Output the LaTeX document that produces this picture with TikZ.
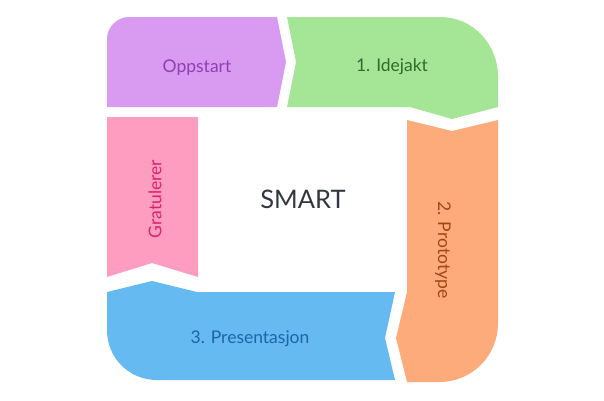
\documentclass[tikz,border=0pt]{standalone}
\usepackage{fontspec}
\setmainfont{Lato}
\usepackage{xcolor}
\usepackage{tikz}
\definecolor{oppfill}{HTML}{D99BF1}
\definecolor{opptext}{HTML}{8E3FB0}
\definecolor{idefill}{HTML}{A5E596}
\definecolor{idetext}{HTML}{2F6B2A}
\definecolor{profill}{HTML}{FDAB7A}
\definecolor{protext}{HTML}{A34712}
\definecolor{prefill}{HTML}{64BAF1}
\definecolor{pretext}{HTML}{1F63A8}
\definecolor{grafill}{HTML}{FE9DC0}
\definecolor{gratext}{HTML}{D8236F}
\definecolor{smarttext}{HTML}{33373F}
\tikzset{
	step label/.style={font=\fontsize{17.5}{20}\selectfont,inner sep=0pt},
	center label/.style={font=\fontsize{25.5}{30}\selectfont,text=smarttext,inner sep=0pt}
}

\begin{document}
\begin{tikzpicture}[x=1pt,y=-1pt]
	\useasboundingbox (0,0) rectangle (604,400);
	\fill[oppfill] (107,107) -- (107,39) .. controls (107,27) and (117,17) .. (129,17)
		-- (277,17) -- (286,62) -- (277,107) -- cycle;
	\fill[idefill] (287,17) -- (440,17) .. controls (473,17) and (498,44) .. (498,77)
		-- (498,107) -- (452,119) -- (410,107) -- (287,107) -- (296,62) -- cycle;
	\fill[profill] (407,120) -- (452,131) -- (498,120) -- (498,323)
		.. controls (498,356) and (472,382) .. (439,382)
		-- (407,382) -- (396,338) -- (407,292) -- cycle;
	\fill[prefill] (107,292) -- (152,281) -- (197,292) -- (395,292) -- (385,338)
		-- (395,380) -- (157,380) .. controls (129,380) and (107,358) .. (107,330) -- cycle;
	\fill[grafill] (107,117) -- (198,117) -- (198,277) -- (152,263) -- (107,277) -- cycle;
	\node[step label,text=opptext] (oppstart) at (197,68) {Oppstart};
	\node[step label,text=idetext] (idejakt) at (392,67) {1. Idejakt};
	\node[step label,text=protext,rotate=-90] (prototype) at (443,250) {2. Prototype};
	\node[step label,text=pretext] (presentasjon) at (250,339) {3. Presentasjon};
	\node[step label,text=gratext,rotate=90] (gratulerer) at (155,199) {Gratulerer};
	\node[center label] (smart) at (303,199) {SMART};
\end{tikzpicture}
\end{document}
